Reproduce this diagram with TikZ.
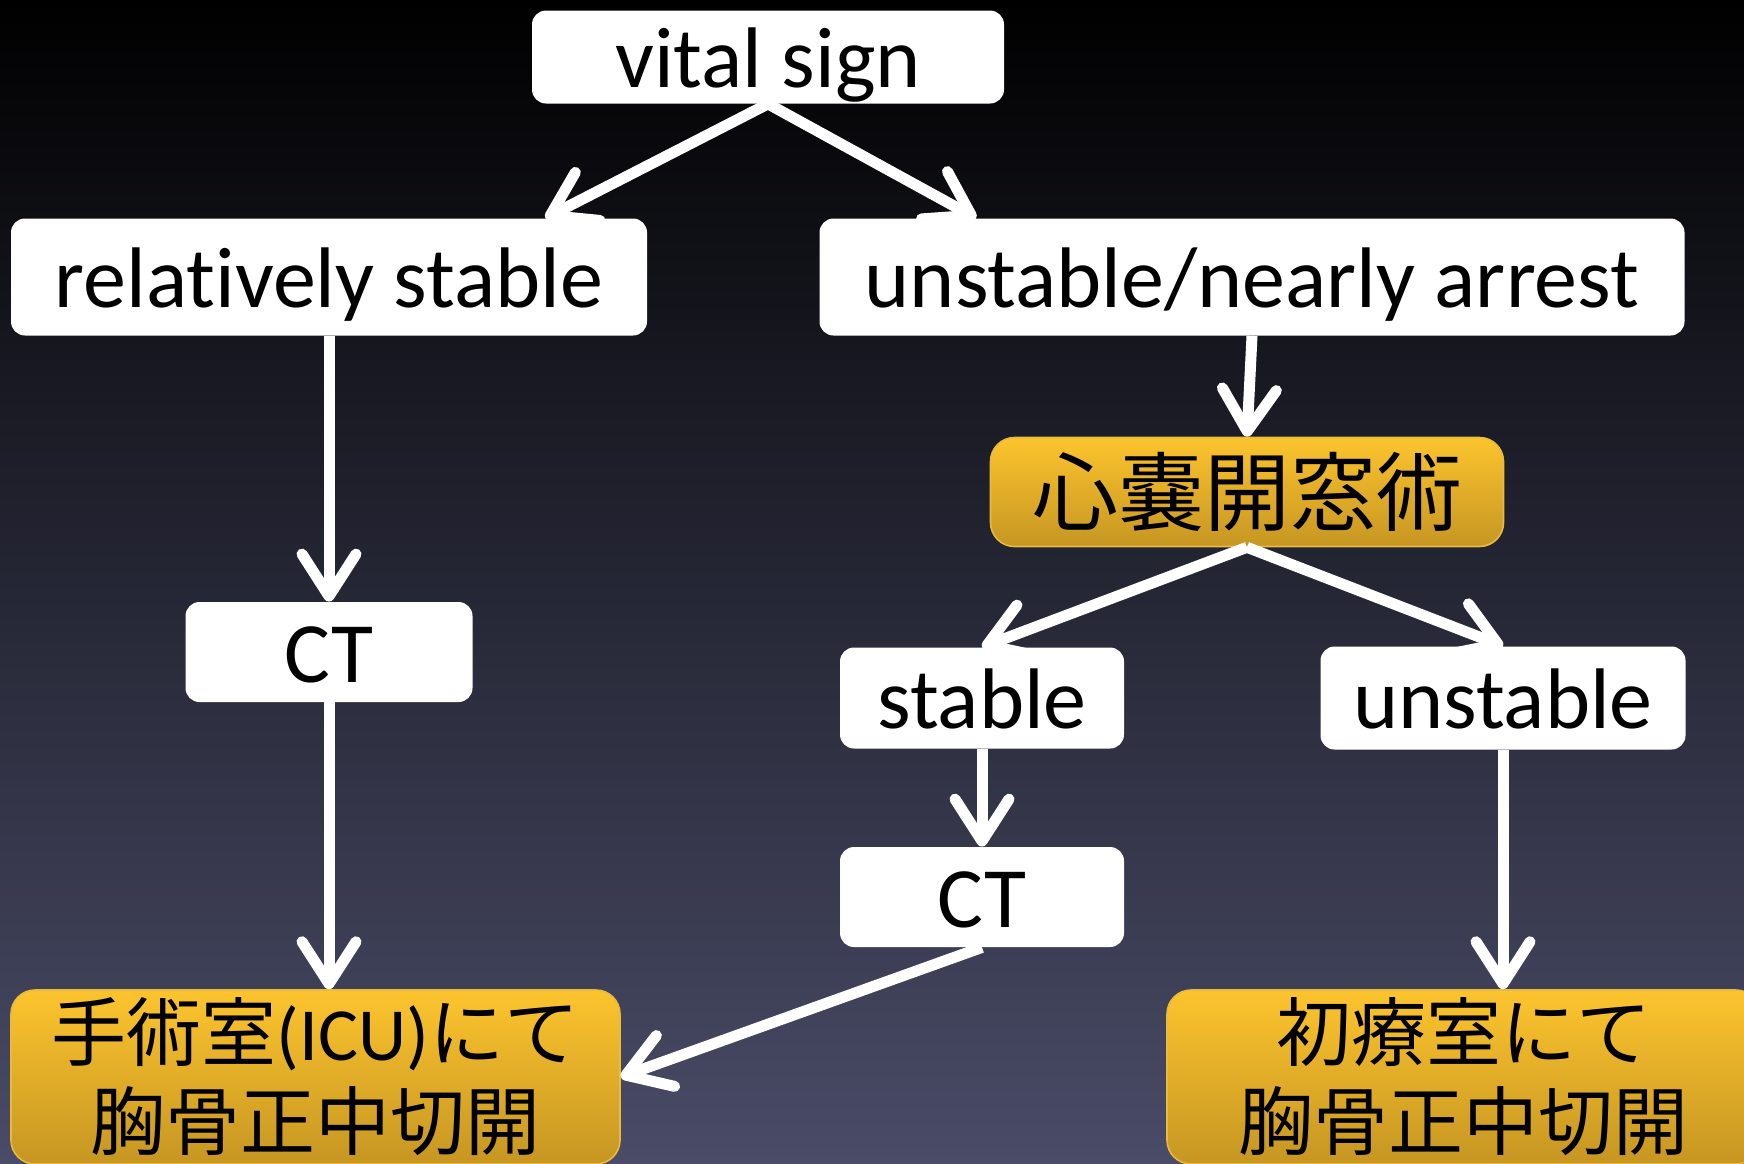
\documentclass[tikz,border=0pt]{standalone}
\usepackage{fontspec}
\setmainfont{Carlito}[Ligatures=NoCommon]
\newfontfamily\jp{Noto Sans CJK JP}
\usetikzlibrary{arrows.meta}
\definecolor{bgmid}{RGB}{32,30,58}
\definecolor{bgbot}{RGB}{74,76,104}
\definecolor{goldtop}{RGB}{252,196,46}
\definecolor{goldbot}{RGB}{198,150,34}
\definecolor{goldline}{RGB}{232,186,64}

\begin{document}
\begin{tikzpicture}[x=0.5pt,y=-0.5pt,
    box/.style={fill=white,rounded corners=7pt,inner sep=0pt,
      text height=30pt,text depth=0pt,
      font=\fontsize{43}{50}\selectfont},
    gold/.style={draw=goldline,line width=0.8pt,rounded corners=12pt,
      top color=goldtop,bottom color=goldbot,inner sep=0pt,align=center,
      font=\jp\fontsize{37.5}{44.5}\selectfont},
    arr/.style={white,line width=5.5pt,
      -{Straight Barb[length=21pt,width=27pt,line width=5.5pt,round]}}]
  % background
  \useasboundingbox (0,0) rectangle (1744,1163);
  \shade[top color=black,middle color=bgmid,bottom color=bgbot]
    (0,0) rectangle (1744,1163);
  % boxes
  \node[box,minimum width=236pt,minimum height=46.5pt] (vital) at (768,57) {vital sign};
  \node[box,minimum width=318pt,minimum height=58.5pt] (rstab) at (329,277) {relatively stable};
  \node[box,minimum width=432.5pt,minimum height=58.5pt] (unl) at (1252,277) {unstable/nearly arrest};
  \node[gold,minimum width=256.5pt,minimum height=54.5pt,
        font=\jp\fontsize{43}{50}\selectfont] (peri) at (1247,492) {心嚢開窓術};
  \node[box,minimum width=143.5pt,minimum height=50pt] (ctl) at (329,652) {CT};
  \node[box,minimum width=142pt,minimum height=50.5pt] (stab) at (982,698) {stable};
  \node[box,minimum width=182.5pt,minimum height=51.5pt] (unst) at (1503,698) {unstable};
  \node[box,minimum width=142pt,minimum height=50pt] (ctr) at (982,897) {CT};
  \node[gold,minimum width=304.5pt,minimum height=87pt] (opl) at (315.5,1077)
    {手術室{\rmfamily (ICU)}にて\\胸骨正中切開};
  \node[gold,minimum width=296.5pt,minimum height=87pt] (opr) at (1463.5,1077)
    {初療室にて\\胸骨正中切開};
  % arrows
  \draw[arr] (vital.south) -- ([xshift=-51pt]rstab.north east);
  \draw[arr] (vital.south) -- ([xshift=78.5pt]unl.north west);
  \draw[arr] (rstab.south) -- (ctl.north);
  \draw[arr] (unl.south) -- (peri.north);
  \draw[arr] (peri.south) -- (stab.north);
  \draw[arr] (peri.south) -- (unst.north);
  \draw[arr] (stab.south) -- (ctr.north);
  \draw[arr] (ctl.south) -- (ctl.south |- opl.north);
  \draw[arr] (ctr.south) -- (opl.east);
  \draw[arr] (unst.south) -- (unst.south |- opr.north);
\end{tikzpicture}
\end{document}
